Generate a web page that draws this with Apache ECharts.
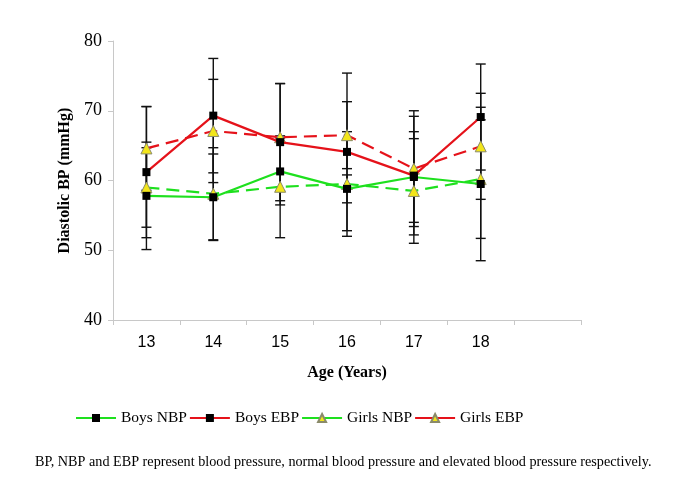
<!DOCTYPE html>
<html>
<head>
<meta charset="utf-8">
<title>Diastolic BP</title>
<script src="https://cdn.jsdelivr.net/npm/echarts@6/dist/echarts.min.js"></script>
<style>
  html, body { margin: 0; padding: 0; background: #fff; }
  #main { width: 685px; height: 504px; }
</style>
</head>
<body>
<div id="main"></div>
<script>
// age groups (last slot left empty like the original axis)
var ages = ['13', '14', '15', '16', '17', '18', ''];

// mean diastolic BP (mmHg)
var boysNBP  = [57.8, 57.6, 61.3, 58.8, 60.5, 59.5];
var boysEBP  = [61.2, 69.3, 65.5, 64.1, 60.7, 69.1];
var girlsNBP = [59.0, 58.1, 59.1, 59.5, 58.5, 60.2];
var girlsEBP = [64.6, 67.1, 66.2, 66.5, 61.7, 64.9];

// error bar half widths (SD)
var boysNBPsd  = [7.7, 6.2, 4.8, 2.0, 6.5, 11.0];
var boysEBPsd  = [9.4, 8.2, 8.4, 11.3, 8.5, 7.6];
var girlsNBPsd = [5.7, 6.6, 7.3, 7.5, 7.5, 8.5];
var girlsEBPsd = [6.0, 7.4, 7.7, 4.8, 8.3, 7.6];

var green = '#1ee01e';
var red = '#e5121a';

function errData(mean, sd) {
  var out = [];
  for (var i = 0; i < mean.length; i++) {
    out.push([i, mean[i] - sd[i], mean[i] + sd[i]]);
  }
  return out;
}

function errSeries(mean, sd) {
  return {
    type: 'custom',
    z: 1,
    silent: true,
    data: errData(mean, sd),
    renderItem: function (params, api) {
      var lo = api.coord([api.value(0), api.value(1)]);
      var hi = api.coord([api.value(0), api.value(2)]);
      var w = 5;
      var st = { stroke: '#111', lineWidth: 1.4 };
      return {
        type: 'group',
        children: [
          { type: 'line', shape: { x1: lo[0], y1: lo[1], x2: hi[0], y2: hi[1] }, style: st },
          { type: 'line', shape: { x1: lo[0] - w, y1: lo[1], x2: lo[0] + w, y2: lo[1] }, style: st },
          { type: 'line', shape: { x1: hi[0] - w, y1: hi[1], x2: hi[0] + w, y2: hi[1] }, style: st }
        ]
      };
    }
  };
}

var serif = 'Liberation Serif, Times New Roman, serif';
var sans = 'Liberation Sans, Arial, sans-serif';

var chart = echarts.init(document.getElementById('main'));
chart.setOption({
  animation: false,
  grid: { left: 113, right: 104, top: 41, bottom: 184 },
  legend: {
    top: 405,
    left: 70,
    itemWidth: 40,
    itemHeight: 10,
    itemGap: 2,
    lineStyle: { type: 'solid' },
    textStyle: { fontFamily: serif, fontSize: 15.5, color: '#000' },
    data: ['Boys NBP', 'Boys EBP', 'Girls NBP', 'Girls EBP']
  },
  xAxis: {
    type: 'category',
    data: ages,
    boundaryGap: true,
    axisLine: { lineStyle: { color: '#c8c8c8', width: 1 } },
    axisTick: { show: true, length: 5, lineStyle: { color: '#c8c8c8' } },
    axisLabel: { fontFamily: sans, fontSize: 16, color: '#000', margin: 15 },
    name: 'Age (Years)',
    nameLocation: 'middle',
    nameGap: 45,
    nameTextStyle: { fontFamily: serif, fontSize: 16, fontWeight: 'bold', color: '#000' }
  },
  yAxis: {
    type: 'value',
    min: 40,
    max: 80,
    interval: 10,
    splitLine: { show: false },
    axisLine: { show: true, lineStyle: { color: '#c8c8c8', width: 1 } },
    axisTick: { show: true, length: 5, lineStyle: { color: '#c8c8c8' } },
    axisLabel: { fontFamily: serif, fontSize: 18, color: '#000', margin: 11 },
    name: 'Diastolic BP (mmHg)',
    nameLocation: 'middle',
    nameGap: 39,
    nameTextStyle: { fontFamily: serif, fontSize: 16, fontWeight: 'bold', color: '#000' }
  },
  graphic: [{
    type: 'text',
    left: 35,
    top: 455,
    style: {
      text: 'BP, NBP and EBP represent blood pressure, normal blood pressure and elevated blood pressure respectively.',
      font: '14.2px ' + serif,
      fill: '#000'
    }
  }],
  series: [
    errSeries(boysNBP, boysNBPsd),
    errSeries(boysEBP, boysEBPsd),
    errSeries(girlsNBP, girlsNBPsd),
    errSeries(girlsEBP, girlsEBPsd),
    {
      name: 'Boys NBP', type: 'line', z: 3, data: boysNBP,
      symbol: 'rect', symbolSize: 8,
      lineStyle: { color: green, width: 2.2 },
      itemStyle: { color: '#000' }
    },
    {
      name: 'Boys EBP', type: 'line', z: 3, data: boysEBP,
      symbol: 'rect', symbolSize: 8,
      lineStyle: { color: red, width: 2.2 },
      itemStyle: { color: '#000' }
    },
    {
      name: 'Girls NBP', type: 'line', z: 2, data: girlsNBP,
      symbol: 'triangle', symbolSize: 11,
      lineStyle: { color: green, width: 2.2, type: [13, 7] },
      itemStyle: { color: '#f2e51a', borderColor: '#8a8a6a', borderWidth: 1 }
    },
    {
      name: 'Girls EBP', type: 'line', z: 2, data: girlsEBP,
      symbol: 'triangle', symbolSize: 11,
      lineStyle: { color: red, width: 2.2, type: [13, 7] },
      itemStyle: { color: '#f2e51a', borderColor: '#8a8a6a', borderWidth: 1 }
    }
  ]
});
</script>
</body>
</html>
